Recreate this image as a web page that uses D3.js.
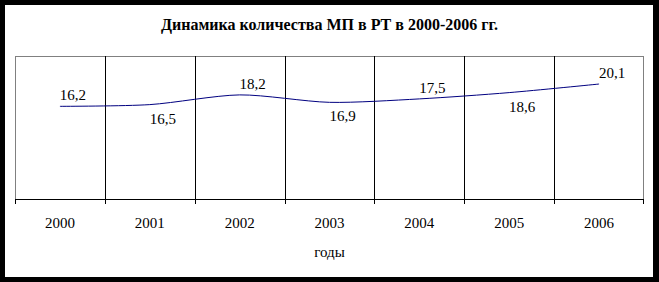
<!DOCTYPE html>
<html>
<head>
<meta charset="utf-8">
<script src="https://cdn.jsdelivr.net/npm/d3@7"></script>
<style>
  body { margin: 0; background: #000; }
  svg { display: block; }
</style>
</head>
<body>
<svg id="drawing_region"></svg>
<script>
// data
const years = ['2000', '2001', '2002', '2003', '2004', '2005', '2006'];
const counts = [16.2, 16.5, 18.2, 16.9, 17.5, 18.6, 20.1];
const countLabels = ['16,2', '16,5', '18,2', '16,9', '17,5', '18,6', '20,1'];
const labelSide = ['above', 'below', 'above', 'below', 'above', 'below', 'above'];
const yDomain = [0, 25];

const chartTitle = 'Динамика количества МП в РТ в 2000-2006 гг.';
const xTitle = 'годы';

const font = "'Liberation Serif', 'Times New Roman', 'DejaVu Serif', serif";

const config = {
    width: 659,
    height: 282,
    border: 5,
    margin: {top: 56, right: 15, bottom: 83, left: 15}
};

const data = years.map((y, i) => ({year: y, value: counts[i], label: countLabels[i], side: labelSide[i]}));

const svg = d3.select('#drawing_region')
    .attr('width', config.width)
    .attr('height', config.height)
    .attr('font-family', font);

// black frame, white inside
svg.append('rect')
    .attr('width', config.width)
    .attr('height', config.height)
    .attr('fill', '#000');
svg.append('rect')
    .attr('x', config.border)
    .attr('y', config.border)
    .attr('width', config.width - 2 * config.border - 1)
    .attr('height', config.height - 2 * config.border)
    .attr('fill', '#fff');

const inner_width = config.width - config.margin.left - config.margin.right;
const inner_height = config.height - config.margin.top - config.margin.bottom;

const chart = svg.append('g')
    .attr('transform', `translate(${config.margin.left}, ${config.margin.top})`);

const xscale = d3.scaleBand()
    .domain(years)
    .range([0, inner_width])
    .padding(0);

const yscale = d3.scaleLinear()
    .domain(yDomain)
    .range([inner_height, 0]);

// plot area border (grey)
chart.append('rect')
    .attr('x', 0.5)
    .attr('y', 0.5)
    .attr('width', inner_width - 1)
    .attr('height', inner_height)
    .attr('fill', 'none')
    .attr('stroke', '#808080')
    .attr('stroke-width', 1);

// vertical grid lines between categories
chart.selectAll('.grid')
    .data(years.slice(1))
    .enter()
    .append('line')
    .attr('class', 'grid')
    .attr('x1', d => Math.round(xscale(d)) + 0.5)
    .attr('x2', d => Math.round(xscale(d)) + 0.5)
    .attr('y1', 0)
    .attr('y2', inner_height)
    .attr('stroke', '#000')
    .attr('stroke-width', 1);

// x axis: ticks on category boundaries
const bounds = years.map(d => xscale(d)).concat([inner_width]);
const xaxis_group = chart.append('g')
    .attr('transform', `translate(0, ${inner_height})`);

xaxis_group.append('line')
    .attr('x1', 0)
    .attr('x2', inner_width)
    .attr('y1', 0.5)
    .attr('y2', 0.5)
    .attr('stroke', '#000');

xaxis_group.selectAll('.tick-mark')
    .data(bounds)
    .enter()
    .append('line')
    .attr('class', 'tick-mark')
    .attr('x1', d => Math.min(Math.round(d), inner_width - 1) + 0.5)
    .attr('x2', d => Math.min(Math.round(d), inner_width - 1) + 0.5)
    .attr('y1', 0)
    .attr('y2', 5)
    .attr('stroke', '#000');

xaxis_group.selectAll('.tick-label')
    .data(years)
    .enter()
    .append('text')
    .attr('class', 'tick-label')
    .attr('x', d => xscale(d) + xscale.bandwidth() / 2)
    .attr('y', 29)
    .attr('text-anchor', 'middle')
    .attr('font-family', font)
    .attr('font-size', 15)
    .text(d => d);

// smoothed line
const line = d3.line()
    .x(d => xscale(d.year) + xscale.bandwidth() / 2)
    .y(d => yscale(d.value))
    .curve(d3.curveCardinal.tension(0.2));

chart.append('path')
    .datum(data)
    .attr('d', line)
    .attr('fill', 'none')
    .attr('stroke', '#000080')
    .attr('stroke-width', 1);

// value labels
chart.selectAll('.value-label')
    .data(data)
    .enter()
    .append('text')
    .attr('class', 'value-label')
    .attr('x', d => xscale(d.year) + xscale.bandwidth() / 2 + 13)
    .attr('y', d => yscale(d.value) + (d.side === 'above' ? -6 : 19))
    .attr('text-anchor', 'middle')
    .attr('font-family', font)
    .attr('font-size', 15)
    .text(d => d.label);

// titles
svg.append('text')
    .attr('x', config.margin.left + inner_width / 2)
    .attr('y', 30)
    .attr('text-anchor', 'middle')
    .attr('font-family', font)
    .attr('font-size', 16)
    .attr('font-weight', 'bold')
    .text(chartTitle);

svg.append('text')
    .attr('x', config.margin.left + inner_width / 2)
    .attr('y', 257)
    .attr('text-anchor', 'middle')
    .attr('font-family', font)
    .attr('font-size', 15)
    .text(xTitle);
</script>
</body>
</html>
